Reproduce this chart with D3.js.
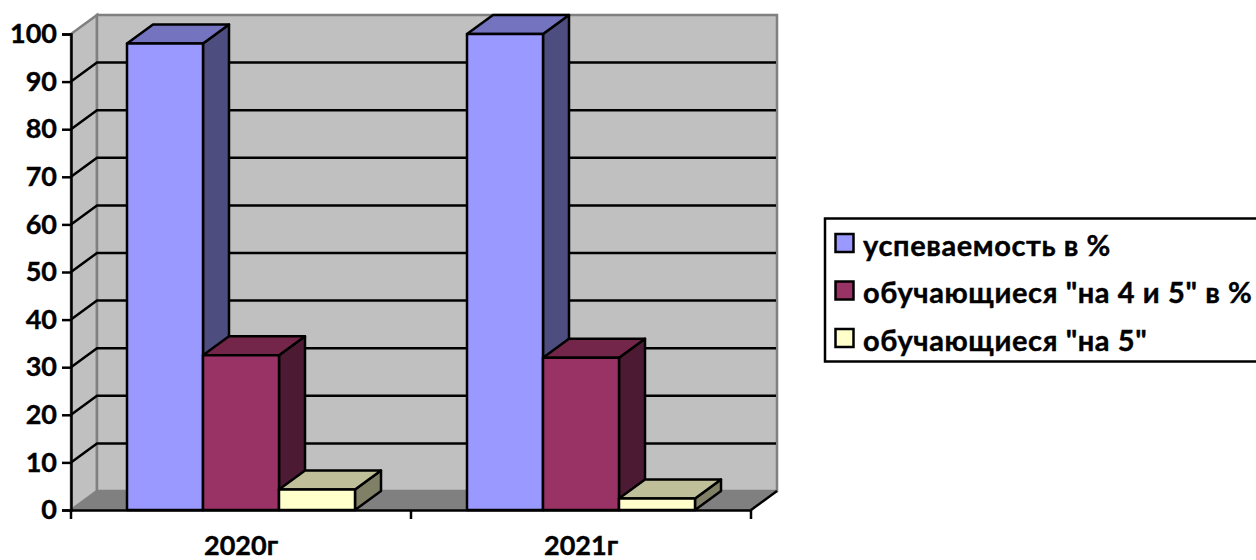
<html>
<head>
<meta charset="utf-8">
<title>Успеваемость</title>
<style>
body { margin: 0; background: #fff; overflow: hidden; }
text { font-family: Lato, "Open Sans", sans-serif; font-weight: 700; fill: #000; stroke: #000; stroke-width: 0.4px; }
</style>
</head>
<body>
<script src="https://cdn.jsdelivr.net/npm/d3@7/dist/d3.min.js"></script>
<script>
var categories = ["2020г", "2021г"];
var seriesNames = ["успеваемость в %", "обучающиеся \"на 4 и 5\" в %", "обучающиеся \"на 5\""];
var uspev = [98, 100];
var na45 = [32.5, 32];
var na5 = [4.3, 2.4];
var yTicks = [0, 10, 20, 30, 40, 50, 60, 70, 80, 90, 100];
var fronts = ["#9999ff", "#993366", "#ffffcc"];
var tops = ["#7373bf", "#732649", "#bfbf99"];
var sides = ["#4d4d80", "#4d1a33", "#808066"];

var seriesValues = [uspev, na45, na5];
var width = 1256, height = 560;
var dx = 26, dy = 19; // глубина псевдо-3D

var svg = d3.select("body").append("svg")
	.attr("width", width)
	.attr("height", height);

var x = d3.scaleBand().domain(categories).range([71, 751]);
var xs = d3.scaleBand().domain(d3.range(3)).range([56, 284]);
var y = d3.scaleLinear().domain([0, 100]).range([510, 34]);

function poly(pts) { return pts.map(function(p) { return p.join(","); }).join(" "); }

var x0 = x.range()[0], x1 = x.range()[1], y0 = y(0), y1 = y(100);

// стенки
svg.append("polygon")
	.attr("points", poly([[x0, y1], [x0 + dx, y1 - dy], [x0 + dx, y0 - dy], [x0, y0]]))
	.attr("fill", "#c0c0c0").attr("stroke", "#808080").attr("stroke-width", 2.5);
svg.append("polygon")
	.attr("points", poly([[x0 + dx, y1 - dy], [x1 + dx, y1 - dy], [x1 + dx, y0 - dy], [x0 + dx, y0 - dy]]))
	.attr("fill", "#c0c0c0").attr("stroke", "#808080").attr("stroke-width", 2.5);
svg.append("polygon")
	.attr("points", poly([[x0, y0], [x0 + dx, y0 - dy], [x1 + dx, y0 - dy], [x1, y0]]))
	.attr("fill", "#808080").attr("stroke", "none");
// правый край пола
svg.append("line")
	.attr("x1", x1).attr("y1", y0).attr("x2", x1 + dx).attr("y2", y0 - dy)
	.attr("stroke", "#000").attr("stroke-width", 2.5);

// сетка
var grid = yTicks.filter(function(d) { return d > 0 && d < 100; });
svg.append("g").selectAll("polyline").data(grid).enter().append("polyline")
	.attr("points", function(d) { return poly([[x0, y(d)], [x0 + dx, y(d) - dy], [x1 + dx - 1, y(d) - dy]]); })
	.attr("fill", "none").attr("stroke", "#000").attr("stroke-width", 2.5);

// столбцы
categories.forEach(function(cat, c) {
	seriesValues.forEach(function(vals, s) {
		var l = x(cat) + xs(s), r = l + xs.bandwidth(), t = y(vals[c]), b = y(0);
		var g = svg.append("g").attr("stroke", "#000").attr("stroke-width", 2.5).attr("stroke-linejoin", "round");
		g.append("polygon").attr("fill", sides[s])
			.attr("points", poly([[r, t], [r + dx, t - dy], [r + dx, b - dy], [r, b]]));
		g.append("polygon").attr("fill", tops[s])
			.attr("points", poly([[l, t], [l + dx, t - dy], [r + dx, t - dy], [r, t]]));
		g.append("rect").attr("fill", fronts[s])
			.attr("x", l).attr("y", t).attr("width", r - l).attr("height", b - t);
	});
});

// оси
var axisY = svg.append("g").attr("transform", "translate(" + x0 + ",0)")
	.call(d3.axisLeft(y).tickValues(yTicks).tickSize(9).tickPadding(5));
axisY.selectAll("text").attr("font-size", 27);

var axisX = svg.append("g").attr("transform", "translate(0," + y0 + ")")
	.call(d3.axisBottom(x).tickSize(0).tickPadding(26));
axisX.selectAll("text").attr("font-size", 27);
axisX.selectAll(".sep").data([0, 1, 2]).enter().append("line")
	.attr("class", "sep")
	.attr("x1", function(d) { return x0 + d * x.step(); })
	.attr("x2", function(d) { return x0 + d * x.step(); })
	.attr("y1", 0).attr("y2", 9)
	.attr("stroke", "#000").attr("stroke-width", 2.5);
svg.selectAll(".domain").attr("stroke", "#000").attr("stroke-width", 2.5);
svg.selectAll(".tick line").attr("stroke", "#000").attr("stroke-width", 2.5);

// легенда
var legend = svg.append("g");
legend.append("rect")
	.attr("x", 825).attr("y", 218.5).attr("width", 440).attr("height", 143)
	.attr("fill", "#fff").attr("stroke", "#000").attr("stroke-width", 2.5);
var rowY = d3.scalePoint().domain(d3.range(3)).range([243, 338]);
seriesNames.forEach(function(name, i) {
	legend.append("rect")
		.attr("x", 835.5).attr("y", rowY(i) - 9).attr("width", 18).attr("height", 18)
		.attr("fill", fronts[i]).attr("stroke", "#000").attr("stroke-width", 2.5);
	legend.append("text")
		.attr("x", 863).attr("y", rowY(i) + 12.5)
		.attr("font-size", 29)
		.style("letter-spacing", "0.6px")
		.text(name);
});
</script>
</body>
</html>
